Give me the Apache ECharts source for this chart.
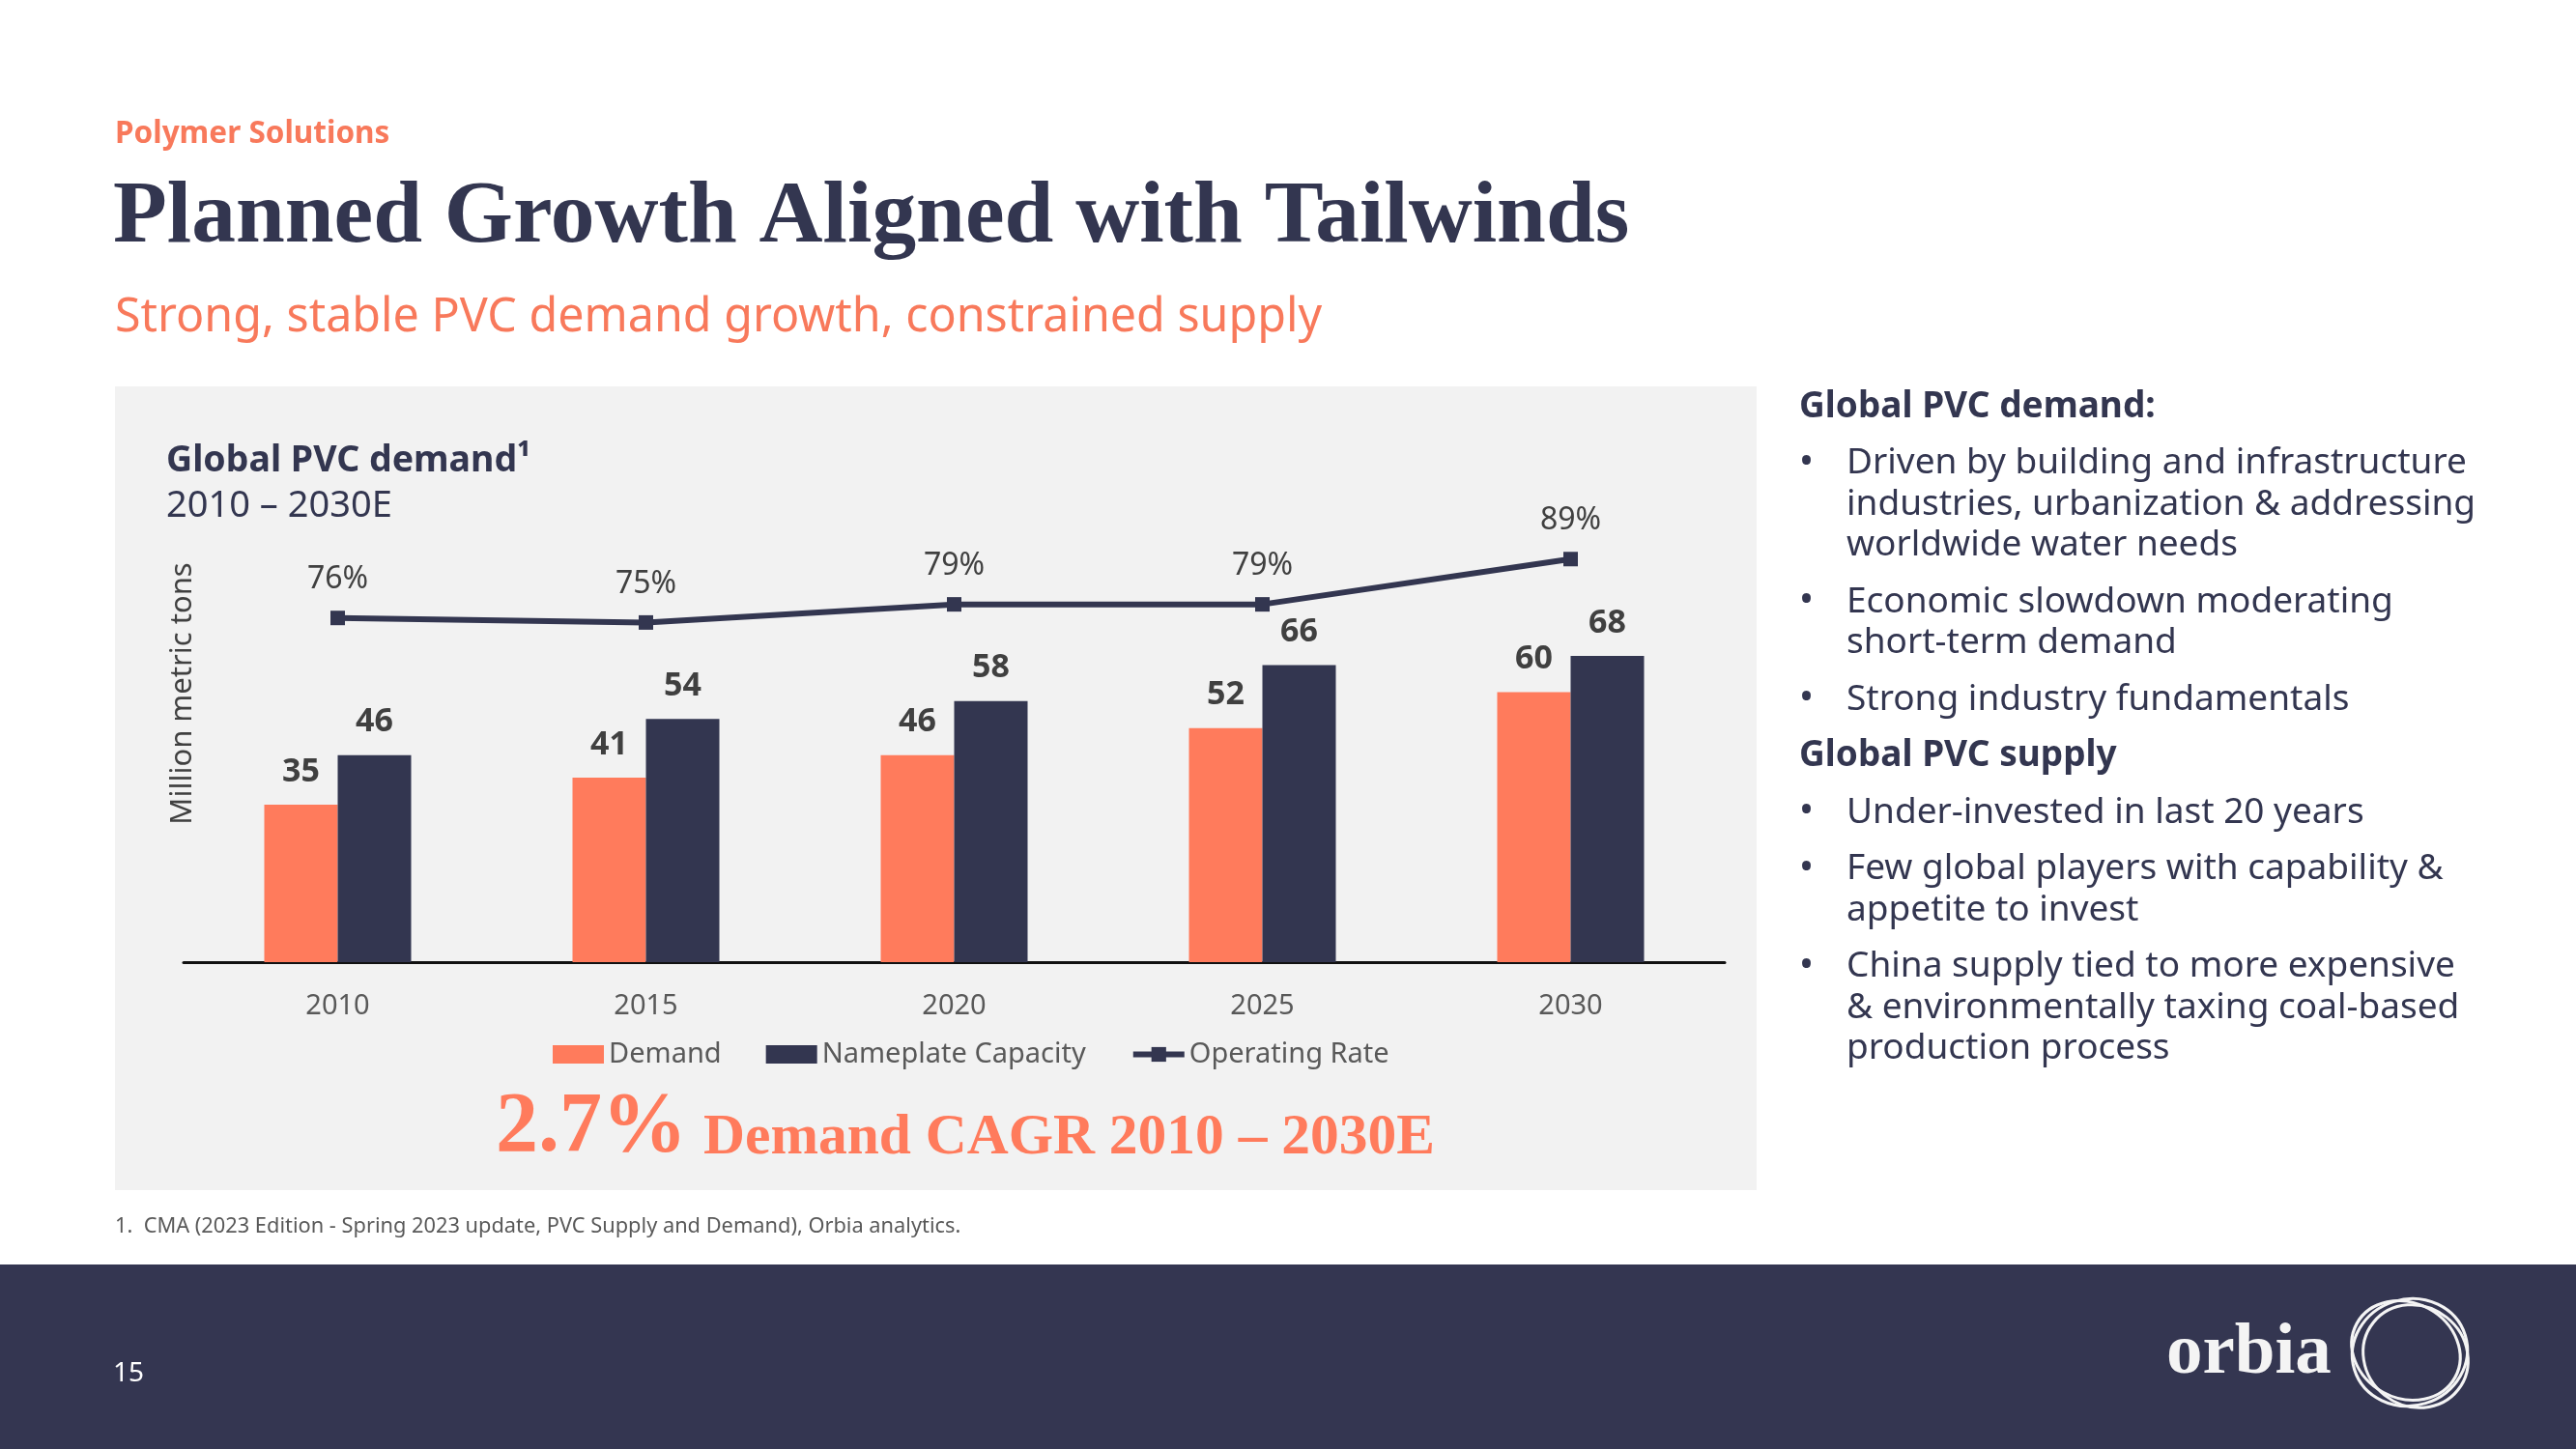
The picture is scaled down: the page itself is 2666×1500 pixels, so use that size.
<!DOCTYPE html>
<html>
<head>
<meta charset="utf-8">
<script src="https://cdn.jsdelivr.net/npm/echarts@6/dist/echarts.min.js"></script>
<style>
  html, body { margin: 0; padding: 0; background: #ffffff; }
  #chart { width: 2666px; height: 1500px; }
</style>
</head>
<body>
<div id="chart"></div>
<script>
// ---- Data ----
const categories = ['2010', '2015', '2020', '2025', '2030'];
const demand = [35, 41, 46, 52, 60];
const capacity = [46, 54, 58, 66, 68];
const operatingRate = [76, 75, 79, 79, 89];
const seriesNames = ['Demand', 'Nameplate Capacity', 'Operating Rate'];

const kicker = 'Polymer Solutions';
const title = 'Planned Growth Aligned with Tailwinds';
const subtitle = 'Strong, stable PVC demand growth, constrained supply';
const chartTitle = 'Global PVC demand\u00B9';
const chartSubtitle = '2010 \u2013 2030E';
const yAxisName = 'Million metric tons';
const cagrValue = '2.7%';
const cagrText = 'Demand CAGR 2010 \u2013 2030E';
const footnote = '1.  CMA (2023 Edition - Spring 2023 update, PVC Supply and Demand), Orbia analytics.';
const pageNumber = '15';
const sideBlocks = [
  { heading: 'Global PVC demand:' },
  { bullet: ['Driven by building and infrastructure', 'industries, urbanization & addressing', 'worldwide water needs'] },
  { bullet: ['Economic slowdown moderating', 'short-term demand'] },
  { bullet: ['Strong industry fundamentals'] },
  { heading: 'Global PVC supply' },
  { bullet: ['Under-invested in last 20 years'] },
  { bullet: ['Few global players with capability &', 'appetite to invest'] },
  { bullet: ['China supply tied to more expensive', '& environmentally taxing coal-based', 'production process'] }
];

// ---- Styles ----
const CORAL = '#FF7B5C';
const CORAL_TEXT = '#F8795B';
const NAVY = '#333650';
const SANS = '"Noto Sans", "Open Sans", sans-serif';
const SERIF = '"Liberation Serif", "DejaVu Serif", serif';

const chart = echarts.init(document.getElementById('chart'), null, { renderer: 'canvas' });

// Right column text elements
const sideElems = [];
let y = 421;
sideBlocks.forEach((b, i) => {
  if (i > 0) y += 58.5;
  if (b.heading) {
    sideElems.push({ type: 'text', x: 1862, y: y,
      style: { text: b.heading, font: 'bold 37px ' + SANS, fill: NAVY, verticalAlign: 'middle' } });
  } else {
    sideElems.push({ type: 'text', x: 1862, y: y,
      style: { text: '\u2022', font: '40px ' + SANS, fill: NAVY, verticalAlign: 'middle' } });
    b.bullet.forEach((line, j) => {
      if (j > 0) y += 42.5;
      sideElems.push({ type: 'text', x: 1911, y: y,
        style: { text: line, font: '37px ' + SANS, fill: NAVY, verticalAlign: 'middle' } });
    });
  }
});

const option = {
  backgroundColor: '#ffffff',
  animation: false,
  textStyle: { fontFamily: SANS },
  graphic: [
    // chart panel
    { type: 'rect', z: -10, shape: { x: 119, y: 400, width: 1699, height: 832 }, style: { fill: '#F2F2F2' } },
    // footer band
    { type: 'rect', z: -10, shape: { x: 0, y: 1309, width: 2666, height: 191 }, style: { fill: '#343651' } },
    { type: 'text', x: 119, y: 139, style: { text: kicker, font: 'bold 31.5px ' + SANS, fill: CORAL_TEXT, verticalAlign: 'middle' } },
    { type: 'text', x: 117, y: 226, style: { text: title, font: 'bold 91.4px ' + SERIF, fill: NAVY, verticalAlign: 'middle' } },
    { type: 'text', x: 119, y: 329, style: { text: subtitle, font: '48.4px ' + SANS, fill: CORAL_TEXT, verticalAlign: 'middle' } },
    { type: 'text', x: 172, y: 477, style: { text: chartTitle, font: 'bold 37.5px ' + SANS, fill: NAVY, verticalAlign: 'middle' } },
    { type: 'text', x: 172, y: 524, style: { text: chartSubtitle, font: '38px ' + SANS, fill: NAVY, verticalAlign: 'middle' } },
    { type: 'text', x: 189, y: 718, rotation: Math.PI / 2,
      style: { text: yAxisName, font: '31px ' + SANS, fill: '#404040', align: 'center', verticalAlign: 'middle' } },
    { type: 'text', x: 513, y: 1168, style: { text: cagrValue, font: 'bold 88px ' + SERIF, fill: CORAL, verticalAlign: 'middle' } },
    { type: 'text', x: 728, y: 1179, style: { text: cagrText, font: 'bold 59.5px ' + SERIF, fill: CORAL, verticalAlign: 'middle' } },
    { type: 'text', x: 119, y: 1270, style: { text: footnote, font: '21.8px ' + SANS, fill: '#595959', verticalAlign: 'middle' } },
    { type: 'text', x: 117, y: 1422, style: { text: pageNumber, font: '28px ' + SANS, fill: '#ffffff', verticalAlign: 'middle' } },
    // logo
    { type: 'text', x: 2242, y: 1402, style: { text: 'orbia', font: 'bold 75px ' + SERIF, fill: '#F4F4F4', verticalAlign: 'middle' } },
    { type: 'circle', x: 2494, y: 1400, rotation: 0.3, scaleX: 1.0, scaleY: 0.92, shape: { cx: 0, cy: 0, r: 60 },
      style: { fill: 'none', stroke: '#F4F4F4', lineWidth: 3, strokeNoScale: true } },
    { type: 'circle', x: 2490, y: 1398, rotation: -0.5, scaleX: 1.0, scaleY: 0.85, shape: { cx: 0, cy: 0, r: 58 },
      style: { fill: 'none', stroke: '#F4F4F4', lineWidth: 3, strokeNoScale: true } },
    { type: 'circle', x: 2500, y: 1404, rotation: 0.9, scaleX: 0.92, scaleY: 1.0, shape: { cx: 0, cy: 0, r: 56 },
      style: { fill: 'none', stroke: '#F4F4F4', lineWidth: 3, strokeNoScale: true } }
  ].concat(sideElems),
  legend: {
    left: 572,
    top: 1077,
    padding: 0,
    itemWidth: 53,
    itemHeight: 19,
    itemGap: 46,
    textStyle: { fontSize: 29, color: '#595959', fontFamily: SANS },
    data: [
      { name: seriesNames[0], icon: 'rect' },
      { name: seriesNames[1], icon: 'rect' },
      { name: seriesNames[2], itemWidth: 57, lineStyle: { width: 6, color: NAVY }, itemStyle: { color: NAVY } }
    ]
  },
  grid: {
    left: 190,
    right: 2666 - 1785,
    top: 530,
    bottom: 1500 - 996,
    outerBoundsMode: 'none',
    containLabel: false
  },
  xAxis: {
    type: 'category',
    data: categories,
    axisLine: { show: true, lineStyle: { color: '#111111', width: 3 } },
    axisTick: { show: false },
    axisLabel: { fontSize: 29, color: '#595959', margin: 31, fontFamily: SANS },
    splitLine: { show: false }
  },
  yAxis: [
    { type: 'value', min: 0, max: 100, show: false, splitLine: { show: false } },
    { type: 'value', min: 0, max: 99.4, show: false, splitLine: { show: false } }
  ],
  series: [
    {
      name: seriesNames[0], type: 'bar', data: demand, barWidth: 76, barGap: '0%',
      itemStyle: { color: CORAL },
      label: { show: true, position: 'top', distance: 17, fontSize: 34, fontWeight: 'bold', color: '#404040', fontFamily: SANS }
    },
    {
      name: seriesNames[1], type: 'bar', data: capacity, barWidth: 76, barGap: '0%',
      itemStyle: { color: NAVY },
      label: { show: true, position: 'top', distance: 17, fontSize: 34, fontWeight: 'bold', color: '#404040', fontFamily: SANS }
    },
    {
      name: seriesNames[2], type: 'line', yAxisIndex: 1, data: operatingRate,
      symbol: 'rect', symbolSize: 15,
      lineStyle: { color: NAVY, width: 6 },
      itemStyle: { color: NAVY },
      label: { show: true, position: 'top', distance: 16, fontSize: 32, color: '#404040', fontFamily: SANS, formatter: '{c}%' }
    }
  ]
};

chart.setOption(option);
</script>
</body>
</html>
